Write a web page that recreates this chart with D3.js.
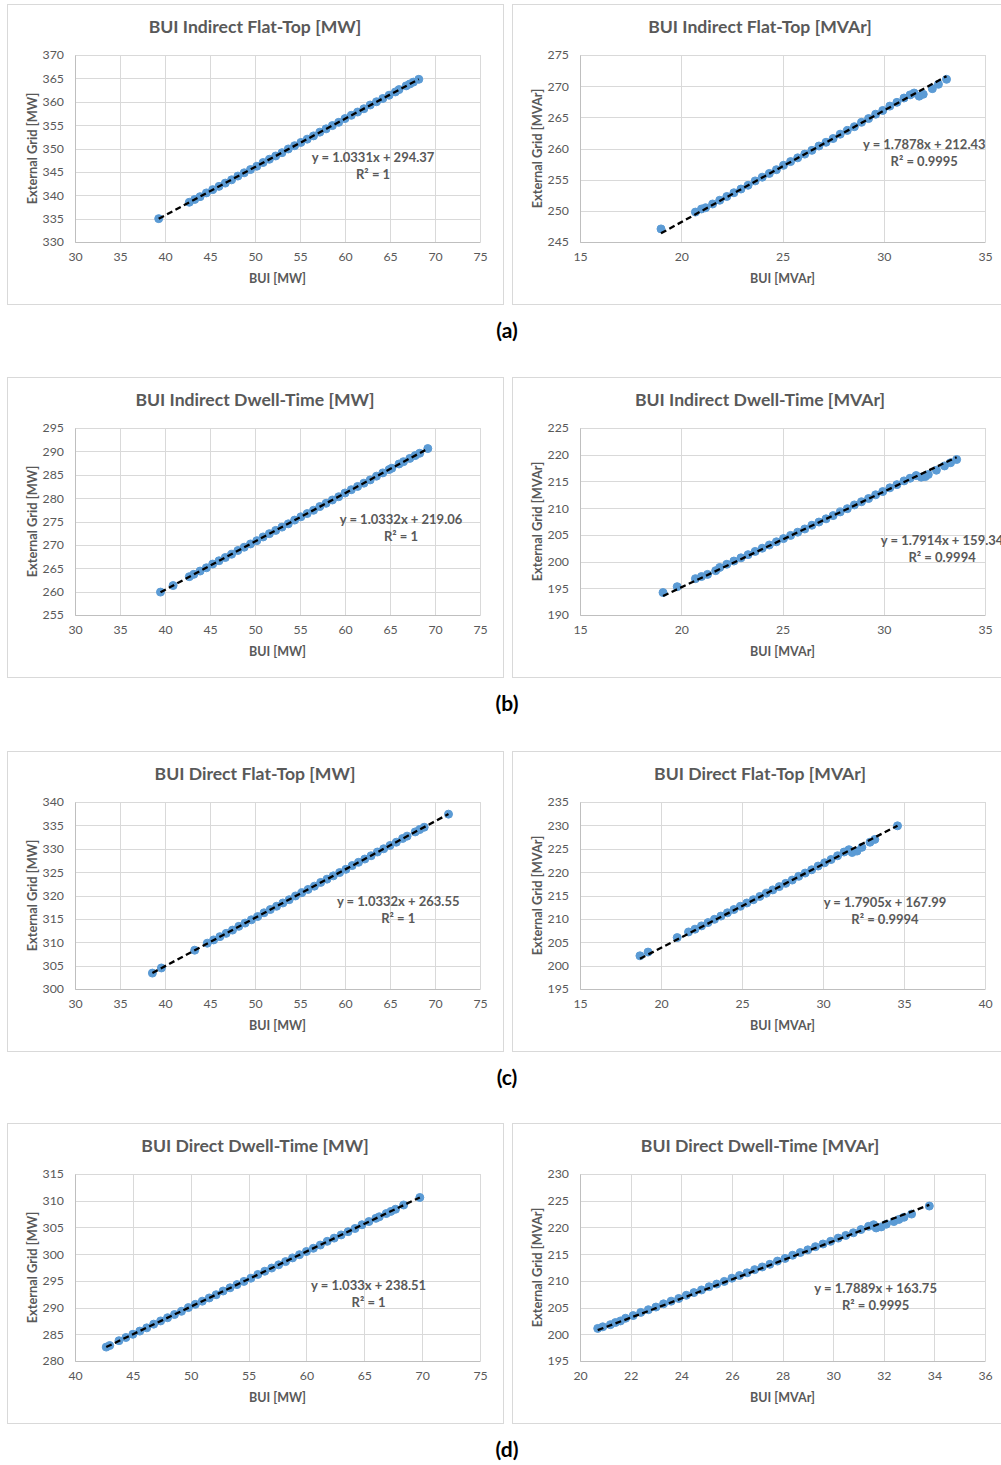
<!DOCTYPE html>
<html>
<head>
<meta charset="utf-8">
<script src="https://cdn.jsdelivr.net/npm/d3@7"></script>
<style>
body { margin: 0; background: #fff; }
text { font-family: Lato, "Open Sans", sans-serif; }
</style>
</head>
<body>
<div id="chart"></div>
<script>
// BUI Indirect Flat-Top
var ifMwX = [39.3, 42.7, 43.3, 43.9, 44.6, 45.3, 46.0, 46.7, 47.4, 48.1, 48.8, 49.5, 50.2, 50.9, 51.6, 52.3, 53.0, 53.7, 54.4, 55.1, 55.8, 56.5, 57.2, 57.9, 58.6, 59.3, 60.0, 60.7, 61.4, 62.1, 62.8, 63.5, 64.2, 64.9, 65.6, 66.0, 66.8, 67.2, 67.6, 68.2];
var ifMwY = [335.0, 338.5, 339.1, 339.7, 340.5, 341.2, 341.9, 342.6, 343.3, 344.1, 344.8, 345.5, 346.2, 347.0, 347.7, 348.4, 349.1, 349.9, 350.6, 351.3, 352.0, 352.7, 353.5, 354.2, 354.9, 355.6, 356.4, 357.1, 357.8, 358.5, 359.3, 360.0, 360.7, 361.4, 362.1, 362.6, 363.4, 363.8, 364.2, 364.8];
var ifMvarX = [19.0, 20.7, 21.0, 21.2, 21.55, 21.9, 22.25, 22.6, 22.95, 23.3, 23.65, 24.0, 24.35, 24.7, 25.05, 25.4, 25.75, 26.1, 26.45, 26.8, 27.15, 27.5, 27.85, 28.2, 28.55, 28.9, 29.25, 29.6, 29.95, 30.3, 30.65, 31.0, 31.3, 31.5, 31.75, 31.95, 32.4, 32.7, 33.1];
var ifMvarY = [247.1, 249.8, 250.3, 250.5, 251.1, 251.7, 252.3, 252.9, 253.5, 254.1, 254.8, 255.4, 256.0, 256.6, 257.3, 257.9, 258.5, 259.1, 259.7, 260.4, 261.0, 261.6, 262.3, 262.9, 263.5, 264.2, 264.8, 265.5, 266.1, 266.8, 267.4, 268.1, 268.6, 268.9, 268.4, 268.7, 269.6, 270.3, 271.1];

// BUI Indirect Dwell-Time
var idMwX = [39.5, 40.9, 42.7, 43.2, 43.9, 44.6, 45.3, 46.0, 46.7, 47.4, 48.1, 48.8, 49.5, 50.2, 50.9, 51.6, 52.3, 53.0, 53.7, 54.4, 55.1, 55.8, 56.5, 57.2, 57.9, 58.6, 59.3, 60.0, 60.7, 61.4, 62.1, 62.8, 63.5, 64.2, 64.9, 65.2, 66.0, 66.5, 67.2, 67.8, 68.3, 69.2];
var idMwY = [259.9, 261.3, 263.2, 263.7, 264.4, 265.1, 265.9, 266.6, 267.3, 268.0, 268.8, 269.5, 270.2, 270.9, 271.7, 272.4, 273.1, 273.8, 274.5, 275.3, 276.0, 276.7, 277.4, 278.2, 278.9, 279.6, 280.3, 281.1, 281.8, 282.5, 283.2, 283.9, 284.7, 285.4, 286.1, 286.4, 287.3, 287.8, 288.5, 289.1, 289.6, 290.6];
var idMvarX = [19.1, 19.8, 20.7, 21.0, 21.3, 21.7, 21.9, 22.25, 22.6, 22.95, 23.3, 23.65, 24.0, 24.35, 24.7, 25.05, 25.4, 25.75, 26.1, 26.45, 26.8, 27.15, 27.5, 27.85, 28.2, 28.55, 28.9, 29.25, 29.6, 29.95, 30.3, 30.65, 31.0, 31.3, 31.6, 31.85, 32.05, 32.2, 32.6, 33.0, 33.3, 33.6];
var idMvarY = [194.2, 195.3, 196.8, 197.2, 197.6, 198.3, 198.9, 199.5, 200.1, 200.7, 201.3, 201.9, 202.5, 203.1, 203.7, 204.3, 204.9, 205.5, 206.1, 206.8, 207.4, 208.0, 208.6, 209.3, 209.9, 210.6, 211.2, 211.8, 212.5, 213.1, 213.8, 214.4, 215.1, 215.6, 216.1, 215.8, 215.9, 216.3, 217.1, 217.9, 218.5, 219.1];

// BUI Direct Flat-Top
var dfMwX = [38.6, 39.6, 43.3, 44.7, 45.4, 46.1, 46.8, 47.5, 48.2, 48.9, 49.6, 50.3, 51.0, 51.7, 52.4, 53.1, 53.8, 54.5, 55.2, 55.9, 56.6, 57.3, 58.0, 58.7, 59.4, 60.1, 60.8, 61.5, 62.2, 62.9, 63.6, 64.3, 65.0, 65.7, 66.4, 66.9, 67.8, 68.3, 68.8, 71.5];
var dfMwY = [303.4, 304.5, 308.3, 309.8, 310.5, 311.2, 311.9, 312.6, 313.4, 314.1, 314.8, 315.5, 316.3, 317.0, 317.7, 318.4, 319.1, 319.9, 320.6, 321.3, 322.0, 322.8, 323.5, 324.2, 324.9, 325.6, 326.4, 327.1, 327.8, 328.5, 329.3, 330.0, 330.7, 331.4, 332.2, 332.7, 333.6, 334.1, 334.6, 337.4];
var dfMvarX = [18.7, 19.2, 21.0, 21.7, 22.1, 22.5, 22.9, 23.3, 23.7, 24.1, 24.5, 24.9, 25.3, 25.7, 26.1, 26.5, 26.9, 27.3, 27.7, 28.1, 28.5, 28.9, 29.3, 29.7, 30.1, 30.5, 30.9, 31.3, 31.6, 31.8, 32.1, 32.4, 32.9, 33.2, 34.6];
var dfMvarY = [202.1, 202.9, 206.0, 207.2, 207.8, 208.5, 209.2, 209.9, 210.6, 211.3, 212.0, 212.7, 213.4, 214.1, 214.8, 215.5, 216.2, 216.9, 217.6, 218.3, 219.1, 219.8, 220.5, 221.3, 222.0, 222.7, 223.5, 224.3, 224.8, 224.2, 224.5, 225.3, 226.4, 227.0, 229.9];

// BUI Direct Dwell-Time
var ddMwX = [42.7, 43.0, 43.8, 44.4, 45.0, 45.6, 46.2, 46.8, 47.4, 48.0, 48.6, 49.2, 49.8, 50.4, 51.0, 51.6, 52.2, 52.8, 53.4, 54.0, 54.6, 55.2, 55.8, 56.4, 57.0, 57.6, 58.2, 58.8, 59.4, 60.0, 60.6, 61.2, 61.8, 62.4, 63.0, 63.6, 64.2, 64.8, 65.4, 66.0, 66.3, 66.9, 67.3, 67.7, 68.4, 69.8];
var ddMwY = [282.6, 282.9, 283.8, 284.4, 285.0, 285.6, 286.2, 286.9, 287.5, 288.1, 288.7, 289.3, 290.0, 290.6, 291.2, 291.8, 292.4, 293.1, 293.7, 294.3, 294.9, 295.5, 296.2, 296.8, 297.4, 298.0, 298.6, 299.3, 299.9, 300.5, 301.1, 301.7, 302.4, 303.0, 303.6, 304.2, 304.8, 305.5, 306.1, 306.7, 307.0, 307.6, 308.0, 308.4, 309.2, 310.6];
var ddMvarX = [20.7, 20.9, 21.2, 21.4, 21.6, 21.8, 22.1, 22.4, 22.7, 23.0, 23.3, 23.6, 23.9, 24.2, 24.5, 24.8, 25.1, 25.4, 25.7, 26.0, 26.3, 26.6, 26.9, 27.2, 27.5, 27.8, 28.1, 28.4, 28.7, 29.0, 29.3, 29.6, 29.9, 30.2, 30.5, 30.8, 31.1, 31.4, 31.6, 31.7, 31.9, 32.1, 32.4, 32.6, 32.8, 33.1, 33.8];
var ddMvarY = [201.1, 201.4, 201.8, 202.2, 202.5, 203.0, 203.5, 204.1, 204.6, 205.1, 205.7, 206.2, 206.7, 207.3, 207.8, 208.3, 208.9, 209.4, 209.9, 210.5, 211.0, 211.5, 212.1, 212.6, 213.1, 213.7, 214.2, 214.8, 215.3, 215.8, 216.4, 216.9, 217.4, 218.0, 218.5, 219.0, 219.6, 220.2, 220.5, 219.9, 220.1, 220.6, 221.1, 221.5, 221.9, 222.5, 224.0];

var titles = ["BUI Indirect Flat-Top [MW]", "BUI Indirect Flat-Top [MVAr]",
    "BUI Indirect Dwell-Time [MW]", "BUI Indirect Dwell-Time [MVAr]",
    "BUI Direct Flat-Top [MW]", "BUI Direct Flat-Top [MVAr]",
    "BUI Direct Dwell-Time [MW]", "BUI Direct Dwell-Time [MVAr]"];
var units = ["MW", "MVAr", "MW", "MVAr", "MW", "MVAr", "MW", "MVAr"];
var slopes = [1.0331, 1.7878, 1.0332, 1.7914, 1.0332, 1.7905, 1.033, 1.7889];
var intercepts = [294.37, 212.43, 219.06, 159.34, 263.55, 167.99, 238.51, 163.75];
var r2 = ["1", "0.9995", "1", "0.9994", "1", "0.9994", "1", "0.9995"];
var xDomains = [[30, 75], [15, 35], [30, 75], [15, 35], [30, 75], [15, 40], [40, 75], [20, 36]];
var yDomains = [[330, 370], [245, 275], [255, 295], [190, 225], [300, 340], [195, 235], [280, 315], [195, 230]];
var xSteps = [5, 5, 5, 5, 5, 5, 5, 2];
var ySteps = [5, 5, 5, 5, 5, 5, 5, 5];
var subLabels = ["(a)", "(b)", "(c)", "(d)"];

var seriesX = [ifMwX, ifMvarX, idMwX, idMvarX, dfMwX, dfMvarX, ddMwX, ddMvarX];
var seriesY = [ifMwY, ifMvarY, idMwY, idMvarY, dfMwY, dfMvarY, ddMwY, ddMvarY];

// layout
var colX = [7, 512],
    rowY = [4, 377, 751, 1123],
    panelW = 496,
    panelH = 300,
    margin = {top: 51, left: 68},
    plotW = 405,
    plotH = 187;
// equation label centre, as a fraction of the plot area
var eqPos = [[0.736, 0.55], [0.85, 0.48], [0.805, 0.49], [0.894, 0.605],
    [0.798, 0.535], [0.753, 0.54], [0.725, 0.6], [0.73, 0.615]];

var textCol = "#595959",
    gridCol = "#D9D9D9",
    dotCol = "#5B9BD5";

var svg = d3.select("#chart")
    .append("svg")
    .attr("width", 1001)
    .attr("height", 1465);

titles.forEach(function(title, i) {
    var row = Math.floor(i / 2),
        col = i % 2;
    var px = colX[col],
        py = rowY[row];

    svg.append("rect")
        .attr("x", px + 0.5)
        .attr("y", py + 0.5)
        .attr("width", panelW)
        .attr("height", panelH)
        .attr("fill", "#fff")
        .attr("stroke", gridCol);

    svg.append("text")
        .attr("x", px + panelW / 2)
        .attr("y", py + 29)
        .attr("text-anchor", "middle")
        .attr("font-size", 17.6)
        .attr("font-weight", "bold")
        .attr("fill", textCol)
        .text(title);

    var g = svg.append("g")
        .attr("transform", "translate(" + (px + margin.left) + "," + (py + margin.top) + ")");

    var x = d3.scaleLinear().domain(xDomains[i]).range([0, plotW]);
    var y = d3.scaleLinear().domain(yDomains[i]).range([plotH, 0]);
    var xTicks = d3.range(xDomains[i][0], xDomains[i][1] + 0.001, xSteps[i]);
    var yTicks = d3.range(yDomains[i][0], yDomains[i][1] + 0.001, ySteps[i]);

    // grid
    g.append("g").selectAll("line")
        .data(xTicks)
        .enter()
        .append("line")
        .attr("x1", function(d) { return Math.round(x(d)) + 0.5; })
        .attr("x2", function(d) { return Math.round(x(d)) + 0.5; })
        .attr("y1", 0)
        .attr("y2", plotH)
        .attr("stroke", gridCol);
    g.append("g").selectAll("line")
        .data(yTicks)
        .enter()
        .append("line")
        .attr("y1", function(d) { return Math.round(y(d)) + 0.5; })
        .attr("y2", function(d) { return Math.round(y(d)) + 0.5; })
        .attr("x1", 0)
        .attr("x2", plotW)
        .attr("stroke", gridCol);

    // axes
    var xa = g.append("g")
        .attr("transform", "translate(0," + plotH + ")")
        .call(d3.axisBottom(x).tickValues(xTicks).tickSize(0).tickPadding(10));
    var ya = g.append("g")
        .call(d3.axisLeft(y).tickValues(yTicks).tickSize(0).tickPadding(11));
    [xa, ya].forEach(function(a) {
        a.select(".domain").attr("stroke", "#BFBFBF");
        a.selectAll("text")
            .attr("fill", textCol)
            .style("font-family", "Lato, sans-serif")
            .style("font-size", "12.3px");
    });

    g.append("text")
        .attr("x", plotW / 2)
        .attr("y", plotH + 41)
        .attr("text-anchor", "middle")
        .attr("font-size", 12.5)
        .attr("font-weight", "bold")
        .attr("fill", textCol)
        .text("BUI [" + units[i] + "]");

    g.append("text")
        .attr("transform", "translate(" + (-38) + "," + (plotH / 2) + ") rotate(-90)")
        .attr("text-anchor", "middle")
        .attr("font-size", 12.8)
        .attr("font-weight", "bold")
        .attr("fill", textCol)
        .text("External Grid [" + units[i] + "]");

    // points
    g.append("g")
        .selectAll("circle")
        .data(seriesX[i])
        .enter()
        .append("circle")
        .attr("cx", function(d) { return x(d); })
        .attr("cy", function(d, j) { return y(seriesY[i][j]); })
        .attr("r", 4)
        .attr("fill", dotCol)
        .attr("stroke", dotCol)
        .attr("stroke-width", 1);

    // linear trendline
    var ext = d3.extent(seriesX[i]);
    g.append("line")
        .attr("x1", x(ext[0]))
        .attr("y1", y(slopes[i] * ext[0] + intercepts[i]))
        .attr("x2", x(ext[1]))
        .attr("y2", y(slopes[i] * ext[1] + intercepts[i]))
        .attr("stroke", "#000")
        .attr("stroke-width", 2.3)
        .attr("stroke-dasharray", "6,3.5");

    var ex = eqPos[i][0] * plotW,
        ey = eqPos[i][1] * plotH;
    var eq = g.append("text")
        .attr("text-anchor", "middle")
        .attr("font-size", 13)
        .attr("font-weight", "bold")
        .attr("fill", textCol);
    eq.append("tspan")
        .attr("x", ex)
        .attr("y", ey + 4)
        .text("y = " + slopes[i] + "x + " + intercepts[i]);
    eq.append("tspan")
        .attr("x", ex)
        .attr("y", ey + 21)
        .text("R\u00B2 = " + r2[i]);
});

subLabels.forEach(function(s, r) {
    svg.append("text")
        .attr("x", 507)
        .attr("y", rowY[r] + 334)
        .attr("text-anchor", "middle")
        .attr("font-size", 21)
        .attr("font-weight", "bold")
        .attr("fill", "#000")
        .text(s);
});
</script>
</body>
</html>
